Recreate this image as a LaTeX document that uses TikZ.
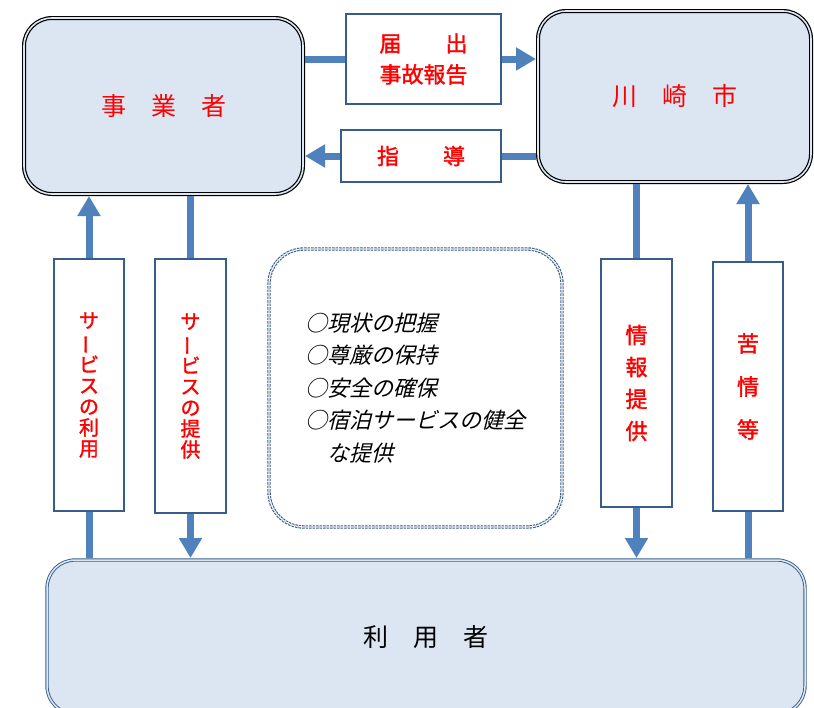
\documentclass[tikz,border=0pt]{standalone}
\usepackage{fontspec}
\setmainfont{Noto Sans CJK JP}
\newfontfamily\slantjp[FakeSlant=0.25]{Noto Sans CJK JP}
\newfontfamily\medjp[FakeBold=1.5]{Noto Sans CJK JP}
\usetikzlibrary{arrows.meta,positioning}
\definecolor{boxfill}{RGB}{220,230,242}
\definecolor{flowblue}{RGB}{79,129,189}
\definecolor{edgeblue}{RGB}{56,93,138}
\definecolor{textred}{RGB}{255,0,0}

\begin{document}
\begin{tikzpicture}[x=1pt,y=-1pt]
  % estilos
  \tikzstyle{party}=[rectangle, rounded corners=28pt, draw=black, line width=1.2pt, double=boxfill, double distance=1.6pt, fill=boxfill, inner sep=0pt, outer sep=2pt, font=\fontsize{25}{30}\selectfont, text=textred]
  \tikzstyle{tag}=[rectangle, draw=edgeblue, line width=1.5pt, fill=white, inner sep=0pt, outer sep=0.75pt, font=\medjp\fontsize{22}{31}\selectfont, text=textred, align=center]
  \tikzstyle{vtag}=[tag, font=\medjp\fontsize{20}{21}\selectfont]
  \tikzstyle{flow}=[line width=7pt, draw=flowblue]
  \tikzstyle{flowtip}=[flow, -{Triangle[length=20pt,width=22pt]}]

  \useasboundingbox (0,0) rectangle (814,707);

  % cajas principales
  \node[party, minimum width=279pt, minimum height=176pt] (jigyo) at (163.5,106) {事　業　者};
  \node[party, minimum width=273pt, minimum height=171pt] (city) at (674.5,96.5) {川　崎　市};
  \node[party, draw=edgeblue, line width=0.9pt, double distance=1.5pt, text=black, minimum width=758pt, minimum height=154pt] (user) at (426,637) {利　用　者};

  % objetivos
  \node[rectangle, rounded corners=35pt, draw=edgeblue, line width=1.1pt, double=white, double distance=1.2pt, dash pattern=on 2.5pt off 1pt, minimum width=293pt, minimum height=278pt, align=left, font=\slantjp\fontsize{22}{32.5}\selectfont] (aims) at (415.5,388) {○現状の把握\\○尊厳の保持\\○安全の確保\\○宿泊サービスの健全\\　な提供};

  % etiquetas
  \node[tag, minimum width=155pt, minimum height=90pt] (notice) at (423.5,59) {届　　出\\事故報告};
  \node[tag, minimum width=160pt, minimum height=52pt] (guide) at (421,156) {指　　導};
  \node[vtag, minimum width=70pt, minimum height=252pt] (use) at (89,385) {サ\\\rotatebox[origin=c]{90}{ー}\\ビ\\ス\\の\\利\\用};
  \node[vtag, minimum width=71pt, minimum height=254pt] (offer) at (190.5,386) {サ\\\rotatebox[origin=c]{90}{ー}\\ビ\\ス\\の\\提\\供};
  \node[vtag, font=\medjp\fontsize{22}{32}\selectfont, minimum width=71pt, minimum height=248pt] (info) at (636.5,383) {情\\報\\提\\供};
  \node[vtag, font=\medjp\fontsize{22}{43}\selectfont, minimum width=70pt, minimum height=249pt] (claim) at (748,386.5) {苦\\情\\等};

  % flechas arriba
  \draw[flow] (jigyo.east |- notice.west) -- (notice.west);
  \draw[flowtip] (notice.east) -- (notice.east -| city.west);
  \draw[flow] (city.west |- guide.east) -- (guide.east);
  \draw[flowtip] (guide.west) -- (guide.west -| jigyo.east);

  % flechas izquierda
  \draw[flow] (user.north -| use.south) -- (use.south);
  \draw[flowtip] (use.north) -- (use.north |- jigyo.south);
  \draw[flow] (jigyo.south -| offer.north) -- (offer.north);
  \draw[flowtip] (offer.south) -- (offer.south |- user.north);

  % flechas derecha
  \draw[flow] (city.south -| info.north) -- (info.north);
  \draw[flowtip] (info.south) -- (info.south |- user.north);
  \draw[flow] (user.north -| claim.south) -- (claim.south);
  \draw[flowtip] (claim.north) -- (claim.north |- city.south);
\end{tikzpicture}
\end{document}
